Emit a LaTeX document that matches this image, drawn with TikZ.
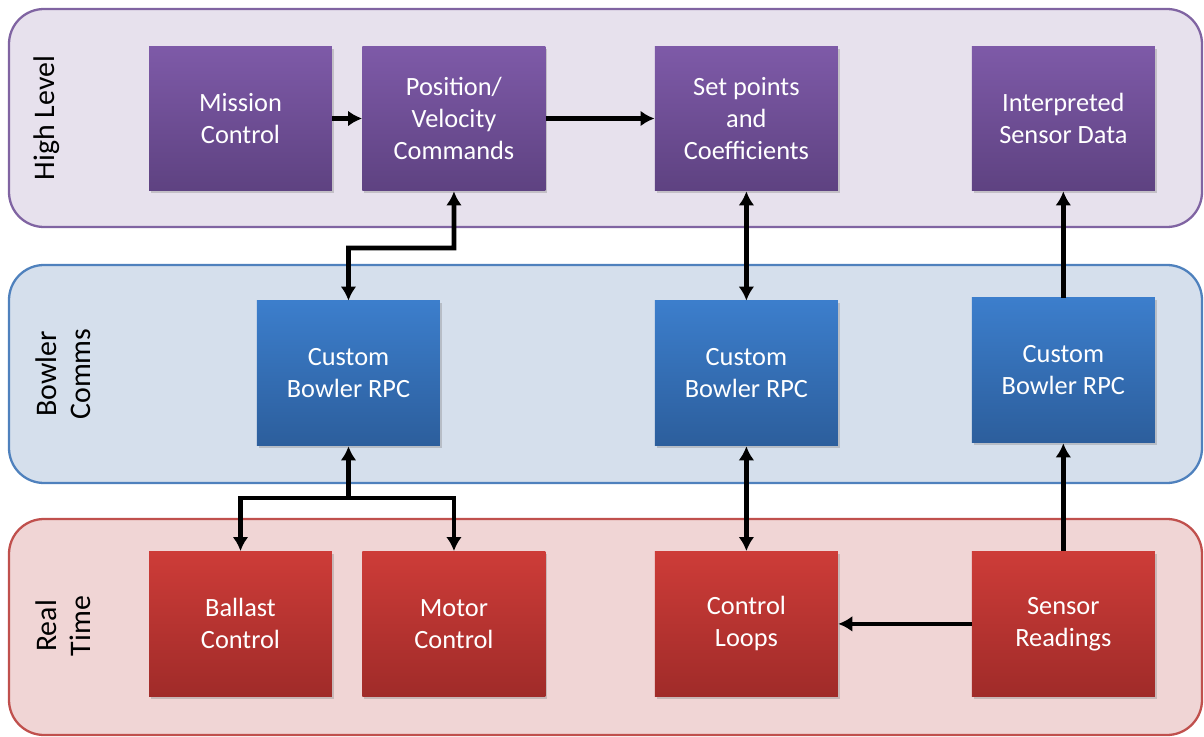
\documentclass[tikz,border=0pt]{standalone}
\usepackage{fontspec}
\setmainfont{Carlito}
\usepackage{tikz}
\usetikzlibrary{shapes,arrows.meta,shadows}

\definecolor{hlline}{HTML}{8064A2}
\definecolor{hlfill}{HTML}{E7E1ED}
\definecolor{hltop}{HTML}{7E5AA8}
\definecolor{hlbot}{HTML}{5E4281}
\definecolor{bcline}{HTML}{4F81BD}
\definecolor{bcfill}{HTML}{D5DFEC}
\definecolor{bctop}{HTML}{3C7ECC}
\definecolor{bcbot}{HTML}{2C5E9C}
\definecolor{rtline}{HTML}{C0504D}
\definecolor{rtfill}{HTML}{F0D5D5}
\definecolor{rttop}{HTML}{CD3C38}
\definecolor{rtbot}{HTML}{A02B29}

\begin{document}
\begin{tikzpicture}[x=0.02cm, y=-0.02cm, >={Latex[length=8pt,width=9pt]}]
        % Stili
        \tikzstyle{block} = [rectangle, minimum width=3.66cm, minimum height=2.9cm, align=center, text=white,
                             font=\fontsize{15}{18.2}\selectfont,
                             drop shadow={opacity=0.35, shadow xshift=0.04cm, shadow yshift=-0.05cm}]
        \tikzstyle{high} = [block, top color=hltop, bottom color=hlbot]
        \tikzstyle{comms} = [block, top color=bctop, bottom color=bcbot]
        \tikzstyle{real} = [block, top color=rttop, bottom color=rtbot]
        \tikzstyle{lane} = [rotate=90, align=center, font=\fontsize{17}{19.5}\selectfont]
        \tikzstyle{link} = [line width=2.6pt]

        \useasboundingbox (0,0) rectangle (1204,737);

        % Fasce
        \draw [hlline, fill=hlfill, line width=1.3pt, rounded corners=0.7cm] (9,9) rectangle (1202,227);
        \draw [bcline, fill=bcfill, line width=1.3pt, rounded corners=0.7cm] (9,265) rectangle (1202,483);
        \draw [rtline, fill=rtfill, line width=1.3pt, rounded corners=0.7cm] (9,519) rectangle (1202,735);

        \node [lane] (lhigh) at (47,118) {High Level};
        \node [lane] (lcomms) at (63,374) {Bowler\\Comms};
        \node [lane] (lreal) at (63,626) {Real\\Time};

        % Nodi
        \node [high] (mission) at (240.5,118.5) {Mission\\Control};
        \node [high, right of=mission, node distance=4.27cm] (pos) {Position/\\Velocity\\Commands};
        \node [high, right of=pos, node distance=5.85cm] (setp) {Set points\\and\\Coefficients};
        \node [high, right of=setp, node distance=6.34cm] (interp) {Interpreted\\Sensor Data};

        \node [comms, below of=mission, node distance=5.1cm, xshift=2.16cm] (rpc1) {Custom\\Bowler RPC};
        \node [comms, below of=setp, node distance=5.1cm] (rpc2) {Custom\\Bowler RPC};
        \node [comms, below of=interp, node distance=5.04cm] (rpc3) {Custom\\Bowler RPC};

        \node [real, below of=mission, node distance=10.11cm] (ballast) {Ballast\\Control};
        \node [real, below of=pos, node distance=10.11cm] (motor) {Motor\\Control};
        \node [real, below of=setp, node distance=10.11cm] (loops) {Control\\Loops};
        \node [real, below of=interp, node distance=10.11cm] (sensor) {Sensor\\Readings};

        \coordinate (up) at (454,248);
        \coordinate (down) at (348.5,498);

        % Collegamenti
        \draw [link, ->] (mission) -- (pos);
        \draw [link, ->] (pos) -- (setp);
        \draw [link, <->] (pos.south) -- (up) -| (rpc1.north);
        \draw [link, <->] (setp) -- (rpc2);
        \draw [link, ->] (rpc3) -- (interp);

        \draw [link, ->] (down) -- (rpc1);
        \draw [link, ->] (down) -| (ballast);
        \draw [link, ->] (down) -| (motor);
        \draw [link, <->] (rpc2) -- (loops);
        \draw [link, ->] (sensor) -- (rpc3);
        \draw [link, ->] (sensor) -- (loops);

    \end{tikzpicture}
\end{document}
